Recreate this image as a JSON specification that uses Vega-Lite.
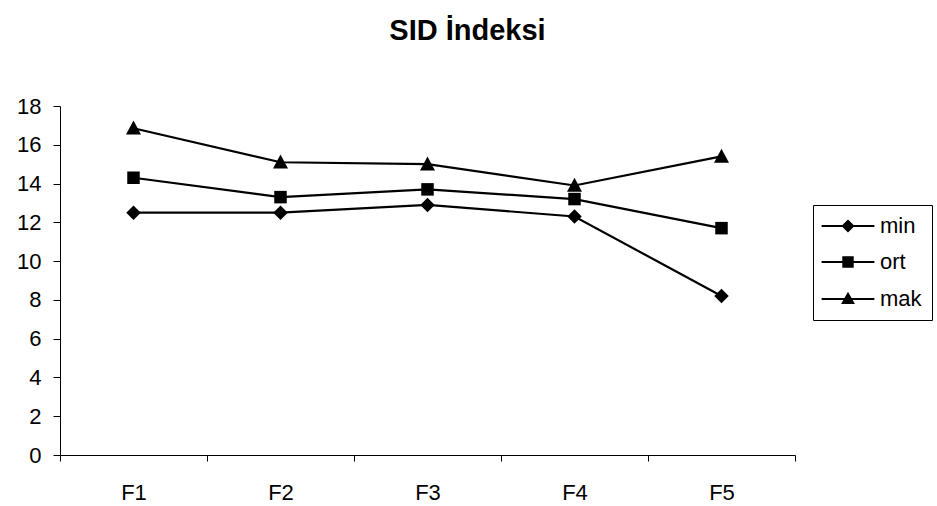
{
  "$schema": "https://vega.github.io/schema/vega-lite/v6.json",
  "width": 735,
  "height": 349,
  "autosize": {"type": "none"},
  "padding": {"left": 60, "top": 106, "right": 142, "bottom": 51},
  "background": "white",
  "config": {
    "font": "Liberation Sans",
    "view": {"stroke": null},
    "axis": {"domainColor": "black", "tickColor": "black", "labelColor": "black", "labelFont": "Liberation Sans", "grid": false, "domainWidth": 1, "tickWidth": 1}
  },
  "title": {
    "text": "SID İndeksi",
    "font": "Liberation Sans",
    "fontSize": 29,
    "fontWeight": "bold",
    "color": "black",
    "anchor": "middle",
    "frame": "group",
    "dx": 40,
    "offset": 49
  },
  "data": {
    "values": [
      {"f": "F1", "s": "min", "v": 12.5},
      {"f": "F2", "s": "min", "v": 12.5},
      {"f": "F3", "s": "min", "v": 12.9},
      {"f": "F4", "s": "min", "v": 12.3},
      {"f": "F5", "s": "min", "v": 8.2},
      {"f": "F1", "s": "ort", "v": 14.3},
      {"f": "F2", "s": "ort", "v": 13.3},
      {"f": "F3", "s": "ort", "v": 13.7},
      {"f": "F4", "s": "ort", "v": 13.2},
      {"f": "F5", "s": "ort", "v": 11.7},
      {"f": "F1", "s": "mak", "v": 16.85},
      {"f": "F2", "s": "mak", "v": 15.1},
      {"f": "F3", "s": "mak", "v": 15.0},
      {"f": "F4", "s": "mak", "v": 13.9},
      {"f": "F5", "s": "mak", "v": 15.4}
    ]
  },
  "encoding": {
    "x": {
      "field": "f",
      "type": "nominal",
      "bandPosition": 0.5,
      "scale": {"type": "band", "paddingInner": 0, "paddingOuter": 0},
      "axis": {"title": null, "labelAngle": 0, "tickBand": "extent", "tickSize": 6, "labelPadding": 21, "labelFontSize": 22}
    },
    "y": {
      "field": "v",
      "type": "quantitative",
      "scale": {"domain": [0, 18], "nice": false},
      "axis": {"title": null, "values": [0, 2, 4, 6, 8, 10, 12, 14, 16, 18], "tickSize": 7, "labelPadding": 12, "labelFontSize": 22}
    }
  },
  "layer": [
    {
      "mark": {"type": "line", "color": "black", "strokeWidth": 2.2},
      "encoding": {"detail": {"field": "s"}}
    },
    {
      "mark": {"type": "point", "filled": true, "color": "black", "opacity": 1, "size": 100},
      "encoding": {
        "shape": {
          "field": "s",
          "type": "nominal",
          "scale": {"domain": ["min", "ort", "mak"], "range": ["M0,-1.45L1.45,0L0,1.45L-1.45,0Z", "M-1.25,-1.25H1.25V1.25H-1.25Z", "M0,-1.55L1.5,1.25H-1.5Z"]},
          "legend": null
        }
      }
    },
    {
      "mark": {"type": "point", "filled": true, "color": "black", "opacity": 0, "size": 144},
      "encoding": {
        "shape": {
          "field": "s",
          "type": "nominal",
          "scale": {"domain": ["min", "ort", "mak"], "range": ["M-4.4,-0.17H4.4V0.17H-4.4ZM0,-1.1L1.1,0L0,1.1L-1.1,0Z", "M-4.4,-0.17H4.4V0.17H-4.4ZM-0.95,-0.95H0.95V0.95H-0.95Z", "M-4.4,-0.17H4.4V0.17H-4.4ZM0,-1.2L1.15,0.85H-1.15Z"]},
          "legend": {
            "title": null,
            "orient": "none",
            "legendX": 753,
            "legendY": 99,
            "strokeColor": "black",
            "padding": 10,
            "labelFontSize": 22,
            "labelFont": "Liberation Sans",
            "labelColor": "black",
            "symbolSize": 144,
            "symbolOpacity": 1,
            "symbolFillColor": "black",
            "symbolStrokeColor": "black",
            "symbolStrokeWidth": 2,
            "symbolOffset": 14,
            "labelOffset": 21,
            "rowPadding": 14,
            "encode": {
              "symbols": {
                "fill": {"value": "black"},
                "opacity": {"value": 1}
              }
            }
          }
        }
      }
    }
  ],
  "resolve": {"scale": {"shape": "independent"}}
}
